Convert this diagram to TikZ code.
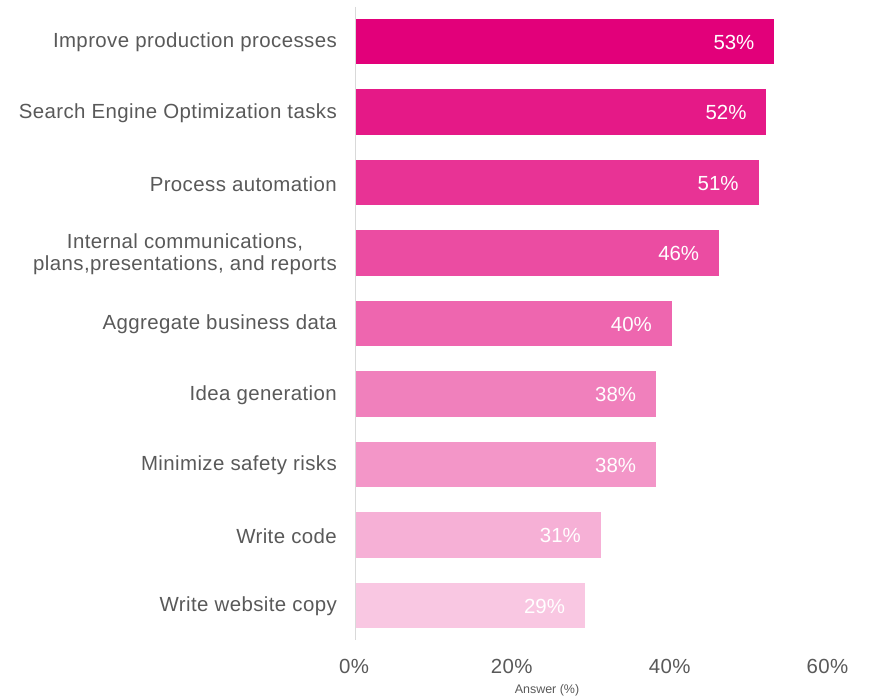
\documentclass[tikz,border=0pt]{standalone}
\usepackage{fontspec}
\setmainfont{Liberation Sans}
\newfontfamily\widefont[LetterSpace=2]{Liberation Sans}
\definecolor{mag}{RGB}{226,0,122}
\definecolor{lbl}{RGB}{89,89,89}
\definecolor{axisc}{RGB}{217,217,217}
\begin{document}
\begin{tikzpicture}[x=1bp,y=-1bp,
  cat/.style={font=\widefont\fontsize{20.5}{22}\selectfont, text=lbl, anchor=east, align=center, inner sep=0pt},
  val/.style={font=\fontsize{20.5}{22}\selectfont, text=white, anchor=east, inner sep=0pt},
  tick/.style={font=\widefont\fontsize{20.5}{22}\selectfont, text=lbl, inner sep=0pt},
  barbox/.style={draw=none, inner sep=0pt, minimum height=45.5bp, anchor=west}]
\useasboundingbox (0,0) rectangle (870,699);
\def\z{355.5}
\def\s{7.89}
\foreach \i/\v/\t/\c in {
  0/53/{Improve production processes}/100,
  1/52/{Search Engine Optimization tasks}/90,
  2/51/{Process automation}/80,
  3/46/{Internal communications,\\plans,presentations, and reports}/70,
  4/40/{Aggregate business data}/60,
  5/38/{Idea generation}/50,
  6/38/{Minimize safety risks}/41,
  7/31/{Write code}/31,
  8/29/{Write website copy}/22} {
  \pgfmathsetmacro{\yc}{41.5+70.5*\i}
  \pgfmathsetmacro{\w}{\v*\s}
  \node[barbox, fill=mag!\c, minimum width=\w bp] (b\i) at (\z+0.5,\yc) {};
  \node[val] (v\i) at ([xshift=-20bp,yshift=-0.8bp]b\i.east) {\v\%};
  \node[cat] (c\i) at (337,\yc+1.2) {\t};
}
\draw[axisc, line width=1.8bp] (\z,7) -- (\z,640);
\foreach \p in {0,20,40,60} {
  \node[tick] (t\p) at (\z+\p*\s-1.5,666) {\p\%};
}
\node[font=\fontsize{12.5}{14}\selectfont, text=lbl, inner sep=0pt] (ax) at (547,690) {Answer (\%)};
\end{tikzpicture}
\end{document}
